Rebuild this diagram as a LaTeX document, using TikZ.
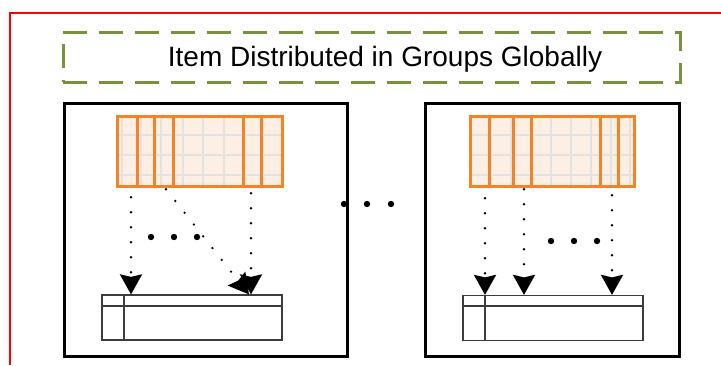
\documentclass[tikz,border=0pt]{standalone}
\usepackage{fontspec}
\setmainfont{Liberation Sans}
\usepackage{xcolor}
\definecolor{gbred}{RGB}{255,0,0}
\definecolor{gbolive}{RGB}{118,146,60}
\definecolor{gborange}{RGB}{244,130,38}
\definecolor{gbpeach}{RGB}{253,239,228}
\definecolor{gbgrey}{RGB}{226,226,226}
\definecolor{gbtable}{RGB}{60,60,60}
\usetikzlibrary{arrows.meta, positioning, calc}

\begin{document}
\begin{tikzpicture}[x=1pt, y=-1pt,
  outer/.style={draw=gbred, line width=1.5pt},
  gtitle/.style={rectangle, draw=gbolive, line width=3pt, dash pattern=on 24pt off 12pt,
                 minimum width=617pt, minimum height=50pt, inner sep=0pt},
  glabel/.style={font=\fontsize{28}{32}\selectfont},
  group/.style={rectangle, draw=black, line width=3pt, minimum height=253pt,
                minimum width=#1, inner sep=0pt},
  items/.style={rectangle, fill=gbpeach, minimum width=164pt, minimum height=69pt, inner sep=0pt},
  iedge/.style={draw=gborange, line width=3pt},
  cell/.style={draw=gbgrey, line width=1.6pt},
  slots/.style={rectangle, draw=gbtable, line width=1.2pt, minimum width=180pt,
                minimum height=45pt, inner sep=0pt},
  flow/.style={line width=2.6pt, line cap=round, dash pattern=on 0pt off 15pt,
               -{Stealth[length=20pt, width=22pt, inset=2.5pt]}},
  bigdot/.style={fill=black}
]
\useasboundingbox (0,0) rectangle (721,365);

% outer frame (only top and left edges are in view)
\draw[outer] (10,365) -- (10,13) -- (721,13);

% title
\node[gtitle] (title) at (371.5,57) {};
\node[glabel] (titletext) at (385,59) {Item Distributed in Groups Globally};

% the two groups
\node[group=283pt] (grpL) at (205.5,229.5) {};
\node[group=254pt] (grpR) at (552,229.5) {};

% Left group: items
\node[items] (itemsL) at (200,151.5) {};
\foreach \x in {122,141,161,183,203,224,244,263}
  \draw[cell] (\x,0 |- itemsL.north) -- (\x,0 |- itemsL.south);
\foreach \y in {135,155,175}
  \draw[cell] (itemsL.west |- 0,\y) -- (itemsL.east |- 0,\y);
\draw[iedge] (itemsL.south west) rectangle (itemsL.north east);
\foreach \x in {137,154,173,243,261}
  \draw[iedge] (\x,0 |- itemsL.north) -- (\x,0 |- itemsL.south);

% Right group: items
\node[items] (itemsR) at (552.5,151.5) {};
\foreach \x in {491,511,531,551,571,591,611,630}
  \draw[cell] (\x,0 |- itemsR.north) -- (\x,0 |- itemsR.south);
\foreach \y in {135,155,175}
  \draw[cell] (itemsR.west |- 0,\y) -- (itemsR.east |- 0,\y);
\draw[iedge] (itemsR.south west) rectangle (itemsR.north east);
\foreach \x in {489,513,531,600,618}
  \draw[iedge] (\x,0 |- itemsR.north) -- (\x,0 |- itemsR.south);

% slot tables
\node[slots] (tblL) at (192,317.5) {};
\draw[gbtable, line width=1.2pt] (tblL.west |- 0,306) -- (tblL.east |- 0,306)
  (124,0 |- tblL.north) -- (124,0 |- tblL.south);
\node[slots] (tblR) at (553,318) {};
\draw[gbtable, line width=1.2pt] (tblR.west |- 0,306) -- (tblR.east |- 0,306)
  (485,0 |- tblR.north) -- (485,0 |- tblR.south);

% Left arrows
\draw[flow] (131,0 |- itemsL.south) ++(0,11) -- (131,0 |- tblL.north);
\draw[flow] (166,0 |- itemsL.south) ++(0,3) -- (249,0 |- tblL.north);
\draw[flow] (251,0 |- itemsL.south) ++(0,7) -- (251,0 |- tblL.north);
\foreach \x in {151,174,197}
  \fill[bigdot] (\x,237) circle (3.2);

% dots between the groups
\foreach \x in {344,367,391}
  \fill[bigdot] (\x,204) circle (3.2);

% Right arrows
\draw[flow] (485,0 |- itemsR.south) ++(0,12) -- (485,0 |- tblR.north);
\draw[flow] (524,0 |- itemsR.south) ++(0,3) -- (524,0 |- tblR.north);
\draw[flow] (612,0 |- itemsR.south) ++(0,9) -- (612,0 |- tblR.north);
\foreach \x in {551,574,597}
  \fill[bigdot] (\x,241) circle (3.2);
\end{tikzpicture}
\end{document}
